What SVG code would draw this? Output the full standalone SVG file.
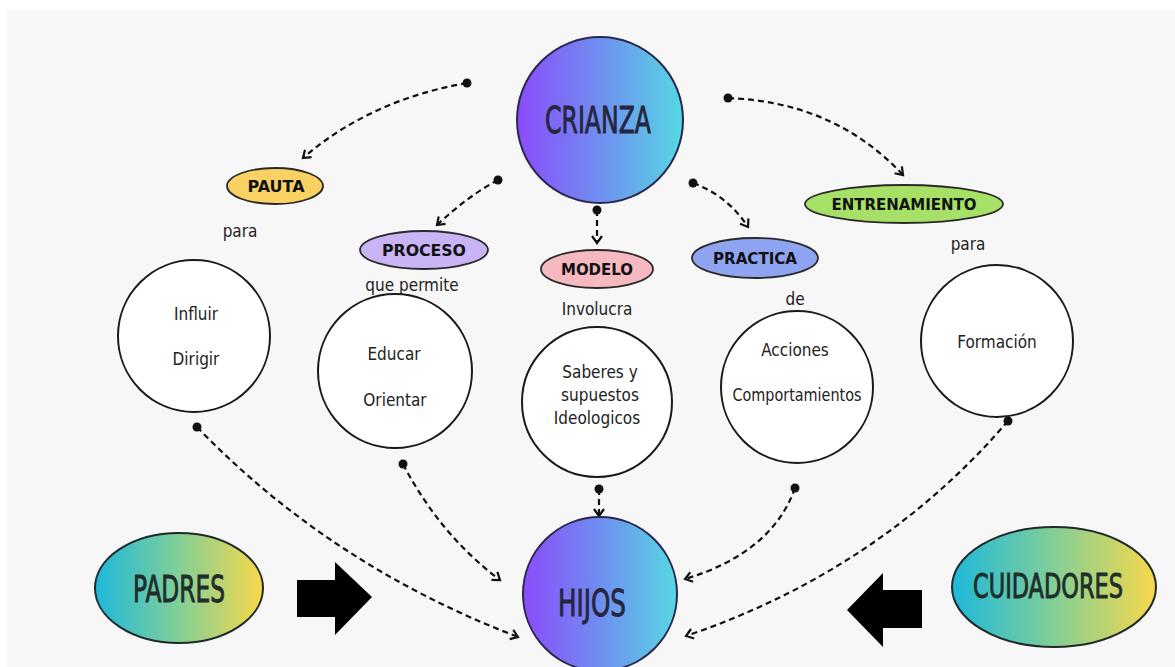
<svg xmlns="http://www.w3.org/2000/svg" width="1175" height="667" viewBox="0 0 1175 667">
<defs>
<linearGradient id="gBlue" x1="0" y1="0" x2="1" y2="0">
<stop offset="0" stop-color="#8b4cfc"/>
<stop offset="0.5" stop-color="#6f8ef0"/>
<stop offset="1" stop-color="#56d8e2"/>
</linearGradient>
<linearGradient id="gWarm" x1="0" y1="0" x2="1" y2="0">
<stop offset="0" stop-color="#1db8dc"/>
<stop offset="0.5" stop-color="#82cf96"/>
<stop offset="1" stop-color="#f8d84a"/>
</linearGradient>
<marker id="dot" markerWidth="10" markerHeight="10" refX="5" refY="5" markerUnits="userSpaceOnUse">
<circle cx="5" cy="5" r="4.5" fill="#111"/>
</marker>
<marker id="arr" markerWidth="14" markerHeight="14" refX="10" refY="7" orient="auto" markerUnits="userSpaceOnUse">
<path d="M3,2 L10,7 L3,12" fill="none" stroke="#111" stroke-width="2.2" stroke-linejoin="miter"/>
</marker>
<style>
.bg{fill:#f7f7f7}
.big{fill:url(#gBlue);stroke:#2b2850;stroke-width:2}
.warm{stroke:#1f2a2a;stroke-width:2}
.wc{fill:#ffffff;stroke:#1a1a1a;stroke-width:2}
.lbl{stroke:#2a2a2a;stroke-width:1.8}
.title{font-family:"DejaVu Sans Condensed","DejaVu Sans",sans-serif;font-size:37px;fill:#262640;stroke:#262640;stroke-width:0.9;text-anchor:middle}
.tag{font-family:"DejaVu Sans","Liberation Sans",sans-serif;font-weight:bold;font-size:16px;fill:#111;text-anchor:middle}
.txt{font-family:"DejaVu Sans Condensed","DejaVu Sans",sans-serif;font-size:17px;fill:#222;text-anchor:middle}
.con{fill:none;stroke:#111;stroke-width:2.2;stroke-dasharray:6 4;marker-start:url(#dot);marker-end:url(#arr)}
</style>
</defs>
<rect width="1175" height="667" fill="#ffffff"/>
<rect class="bg" x="7" y="10" width="1168" height="657"/>

<g id="connectors">
<path class="con" d="M467,83 Q370,100 303,158"/>
<path class="con" d="M498,180 Q468,196 437,225"/>
<path class="con" d="M597,210 L597,243"/>
<path class="con" d="M693,183 Q728,196 748,227"/>
<path class="con" d="M728,98 Q835,102 903,175"/>
<path class="con" d="M197,427 Q330,565 518,637"/>
<path class="con" d="M403,464 Q440,535 500,580"/>
<path class="con" d="M599,489 L599,516"/>
<path class="con" d="M795,488 Q772,553 685,579"/>
<path class="con" d="M1008,421 Q880,570 686,636"/>
</g>

<g id="crianza">
<circle class="big" cx="600" cy="120" r="83"/>
<text class="title" x="598" y="133" textLength="106" lengthAdjust="spacingAndGlyphs">CRIANZA</text>
</g>

<g id="hijos">
<circle class="big" cx="600" cy="594" r="77"/>
<text class="title" x="592" y="616" textLength="68" lengthAdjust="spacingAndGlyphs">HIJOS</text>
</g>

<g id="pauta">
<ellipse class="lbl" cx="275" cy="186" rx="48" ry="18" fill="#f9d263"/>
<text class="tag" x="276" y="192" textLength="57" lengthAdjust="spacingAndGlyphs">PAUTA</text>
<text class="txt" x="240" y="237">para</text>
</g>

<g id="proceso">
<ellipse class="lbl" cx="424" cy="250" rx="64" ry="19" fill="#c9b4f6"/>
<text class="tag" x="424" y="256" textLength="84" lengthAdjust="spacingAndGlyphs">PROCESO</text>
<text class="txt" x="412" y="291">que permite</text>
</g>

<g id="modelo">
<ellipse class="lbl" cx="597" cy="269" rx="56" ry="19" fill="#f7b9c0"/>
<text class="tag" x="597" y="275" textLength="72" lengthAdjust="spacingAndGlyphs">MODELO</text>
<text class="txt" x="597" y="315">Involucra</text>
</g>

<g id="practica">
<ellipse class="lbl" cx="755" cy="258" rx="63" ry="20" fill="#8fa4f0"/>
<text class="tag" x="755" y="264" textLength="84" lengthAdjust="spacingAndGlyphs">PRACTICA</text>
<text class="txt" x="795" y="305">de</text>
</g>

<g id="entrenamiento">
<ellipse class="lbl" cx="904" cy="204" rx="99" ry="19" fill="#a6e066"/>
<text class="tag" x="904" y="210" textLength="145" lengthAdjust="spacingAndGlyphs">ENTRENAMIENTO</text>
<text class="txt" x="968" y="250">para</text>
</g>

<g id="influir">
<circle class="wc" cx="194" cy="336" r="76"/>
<text class="txt" x="196" y="320">Influir</text>
<text class="txt" x="196" y="365">Dirigir</text>
</g>

<g id="educar">
<circle class="wc" cx="395" cy="371" r="77"/>
<text class="txt" x="394" y="360">Educar</text>
<text class="txt" x="395" y="406">Orientar</text>
</g>

<g id="saberes">
<circle class="wc" cx="597" cy="402" r="75"/>
<text class="txt" x="600" y="378">Saberes y</text>
<text class="txt" x="600" y="401">supuestos</text>
<text class="txt" x="597" y="424">Ideologicos</text>
</g>

<g id="acciones">
<circle class="wc" cx="797" cy="387" r="76"/>
<text class="txt" x="795" y="356">Acciones</text>
<text class="txt" x="797" y="401" textLength="129" lengthAdjust="spacingAndGlyphs">Comportamientos</text>
</g>

<g id="formacion">
<circle class="wc" cx="997" cy="341" r="76"/>
<text class="txt" x="997" y="348">Formación</text>
</g>

<g id="padres">
<ellipse class="warm" cx="179" cy="588" rx="84" ry="55" fill="url(#gWarm)"/>
<text class="title" x="179" y="602" textLength="92" lengthAdjust="spacingAndGlyphs" style="fill:#1f2e2a;stroke:#1f2e2a">PADRES</text>
</g>

<g id="cuidadores">
<ellipse class="warm" cx="1054" cy="587" rx="102" ry="60" fill="url(#gWarm)"/>
<text class="title" x="1048" y="598" textLength="150" lengthAdjust="spacingAndGlyphs" style="font-size:34px;fill:#1f2e2a;stroke:#1f2e2a">CUIDADORES</text>
</g>

<g id="arrow-right">
<polygon points="297,580 335,580 335,562 372,597 335,635 335,617 297,617" fill="#000"/>
</g>

<g id="arrow-left">
<polygon points="922,590 883,590 883,573 847,610 883,647 883,628 922,628" fill="#000"/>
</g>
</svg>
